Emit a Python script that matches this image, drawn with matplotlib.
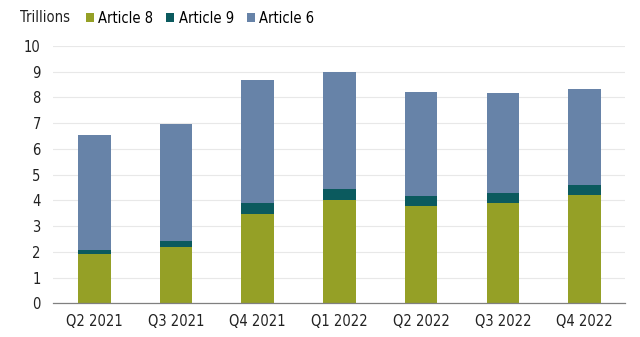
import matplotlib.pyplot as plt
import numpy as np

plt.rcParams['font.family'] = ['DejaVu Sans']
plt.rcParams['font.stretch'] = 'condensed'

quarters = ['Q2 2021', 'Q3 2021', 'Q4 2021', 'Q1 2022', 'Q2 2022', 'Q3 2022', 'Q4 2022']
article8 = [1.90, 2.17, 3.45, 4.00, 3.76, 3.89, 4.22]
article9 = [0.17, 0.25, 0.44, 0.44, 0.40, 0.39, 0.38]
article6 = [4.48, 4.53, 4.77, 4.56, 4.03, 3.90, 3.73]

col8 = '#95a026'
col9 = '#0b5a5e'
col6 = '#6783a8'

fig = plt.figure(figsize=(6.4, 3.37), dpi=100)
ax = fig.add_axes([0.0833, 0.1, 0.894, 0.764])

x = np.arange(len(quarters))
a8 = np.array(article8)
a9 = np.array(article9)
a6 = np.array(article6)
w = 0.4
ax.bar(x, a8, w, color=col8, label='Article 8', zorder=2)
ax.bar(x, a9, w, bottom=a8, color=col9, label='Article 9', zorder=2)
ax.bar(x, a6, w, bottom=a8 + a9, color=col6, label='Article 6', zorder=2)

ax.set_xlim(-0.5, 6.5)
ax.set_ylim(0, 10)
ax.set_yticks(range(0, 11))
ax.set_xticks(x)
ax.set_xticklabels(quarters)
ax.grid(axis='y', color='#e8e8e8', linewidth=0.8, zorder=0)
for s in ['top', 'right', 'left']:
    ax.spines[s].set_visible(False)
ax.spines['bottom'].set_color('#808080')
ax.spines['bottom'].set_linewidth(0.9)
ax.tick_params(axis='both', length=0, labelsize=10.5, colors='#222222')
ax.tick_params(axis='x', pad=8)
ax.tick_params(axis='y', pad=9)

fig.text(0.031, 0.948, 'Trillions', fontsize=10.5, color='#222222', va='center')
fig.legend(loc='center left', bbox_to_anchor=(0.134, 0.945), ncol=3, frameon=False,
           fontsize=10.5, handlelength=0.55, handleheight=0.55, handletextpad=0.3,
           columnspacing=0.9, borderaxespad=0, borderpad=0)

fig.savefig('out.png', dpi=100)
